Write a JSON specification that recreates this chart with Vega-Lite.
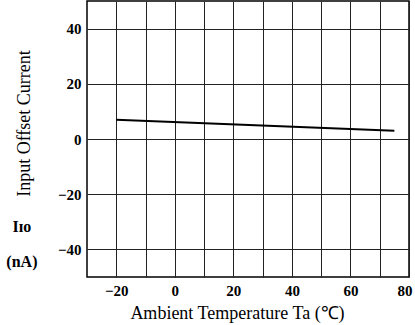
{
  "$schema": "https://vega.github.io/schema/vega-lite/v6.json",
  "autosize": "none",
  "width": 322,
  "height": 276,
  "padding": {"left": 87, "top": 1, "right": 6, "bottom": 48},
  "background": "white",
  "title": {
    "text": ["Iɪᴏ", "(nA)"],
    "orient": "left",
    "anchor": "start",
    "frame": "group",
    "angle": 0,
    "align": "center",
    "baseline": "middle",
    "font": "Liberation Serif, DejaVu Serif",
    "fontSize": 16,
    "fontWeight": "bold",
    "color": "black",
    "lineHeight": 35,
    "offset": 0,
    "dx": 38,
    "dy": -50
  },
  "config": {
    "view": {"stroke": "black", "strokeWidth": 1.5},
    "axis": {
      "labelFont": "Liberation Serif",
      "labelFontWeight": "bold",
      "labelFontSize": 15,
      "labelColor": "black",
      "titleFont": "Liberation Serif",
      "titleFontWeight": "normal",
      "titleColor": "black",
      "gridColor": "#222",
      "gridOpacity": 1,
      "gridWidth": 1,
      "domain": false,
      "ticks": false
    }
  },
  "data": {
    "values": [
      {"ta": -20, "iio": 7},
      {"ta": 75, "iio": 3}
    ]
  },
  "mark": {"type": "line", "color": "black", "strokeWidth": 2},
  "encoding": {
    "x": {
      "field": "ta",
      "type": "quantitative",
      "scale": {"domain": [-30, 80], "nice": false, "zero": false},
      "axis": {
        "values": [-20, -10, 0, 10, 20, 30, 40, 50, 60, 70, 80],
        "labelExpr": "datum.value % 20 == 0 ? datum.label : ''",
        "labelPadding": 6,
        "labelFlush": true,
        "labelFlushOffset": 3,
        "labelOverlap": false,
        "title": "Ambient Temperature Ta (℃)",
        "titleFontSize": 18,
        "titleX": 150,
        "titleY": 41,
        "titleBaseline": "alphabetic"
      }
    },
    "y": {
      "field": "iio",
      "type": "quantitative",
      "scale": {"domain": [-50, 50], "nice": false},
      "axis": {
        "values": [-40, -20, 0, 20, 40],
        "labelPadding": 6,
        "title": "Input Offset Current",
        "titleFontSize": 18,
        "titleX": -63,
        "titleY": 122,
        "titleAngle": -90,
        "titleAlign": "center",
        "titleBaseline": "middle"
      }
    }
  }
}
